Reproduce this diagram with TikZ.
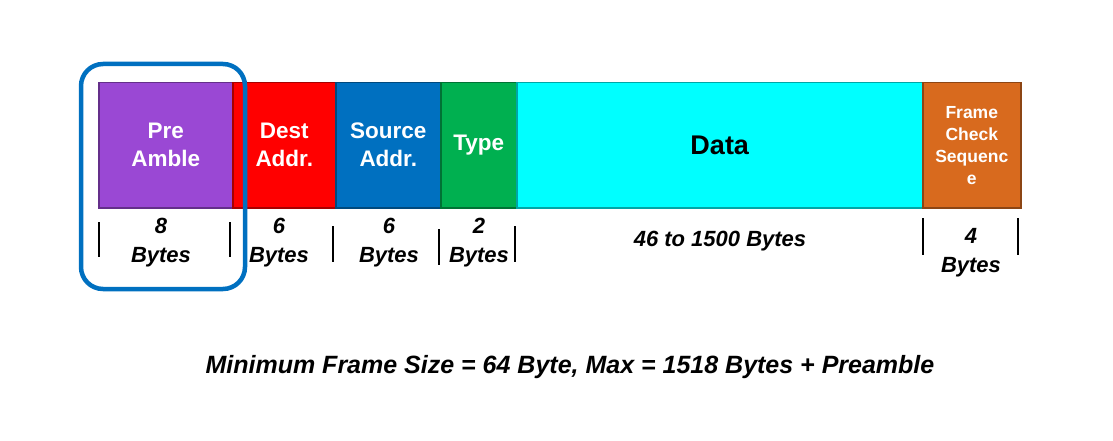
\documentclass[tikz,border=0pt]{standalone}
\usepackage{fontspec}
\setmainfont{Liberation Sans}
\usetikzlibrary{positioning}
\definecolor{preC}{HTML}{9A48D4}
\definecolor{destC}{HTML}{FF0000}
\definecolor{srcC}{HTML}{0070C0}
\definecolor{typeC}{HTML}{00B050}
\definecolor{dataC}{HTML}{00FFFF}
\definecolor{fcsC}{HTML}{D86A1E}
\tikzset{
  field/.style={draw=#1!65!black,fill=#1,line width=1.5pt,anchor=north west,inner sep=0pt,
    minimum height=125pt,align=center,text=white,font=\fontsize{22.5}{28}\selectfont\bfseries},
  sizelabel/.style={align=center,font=\fontsize{22}{29}\selectfont\bfseries\itshape},
  tick/.style={line width=1.8pt}
}
\begin{document}
\begin{tikzpicture}[x=1pt,y=-1pt]
  \useasboundingbox (0,0) rectangle (1113,441);
  % fields
  \node[field=preC,minimum width=134pt] (pre) at (98,82) {Pre\\Amble};
  \node[field=destC,minimum width=103pt] (dest) at (232,82) {Dest\\Addr.};
  \node[field=srcC,minimum width=105pt] (src) at (335,82) {Source\\Addr.};
  \node[field=typeC,minimum width=76pt] (type) at (440,82) {Type};
  \node[field=dataC,minimum width=406pt,text=black,font=\fontsize{27}{30}\selectfont\bfseries] (data) at (516,82) {Data};
  \node[field=fcsC,minimum width=98pt,font=\fontsize{17.5}{22}\selectfont\bfseries] (fcs) at (922,82) {Frame\\Check\\Sequenc\\e};
  % ticks
  \foreach \x/\a/\b in {99/222/257,230/222/257,333/226/262,439/229/265,515/226/262,923/218/255,1018/218/255}
    \draw[tick] (\x,\a) -- (\x,\b);
  % sizes
  \node[sizelabel] (preB) at (161,243) {8\\Bytes};
  \node[sizelabel] (destB) at (279,243) {6\\Bytes};
  \node[sizelabel] (srcB) at (389,243) {6\\Bytes};
  \node[sizelabel] (typeB) at (479,243) {2\\Bytes};
  \node[sizelabel] (dataB) at (720,241) {46 to 1500 Bytes};
  \node[sizelabel] (fcsB) at (971,253) {4\\Bytes};
  % highlight
  \draw[srcC,line width=4.5pt,rounded corners=22pt] (81,64) rectangle (245,289);
  \node[font=\fontsize{25}{28}\selectfont\bfseries\itshape] (note) at (570,367) {Minimum Frame Size = 64 Byte, Max = 1518 Bytes + Preamble};
\end{tikzpicture}
\end{document}
